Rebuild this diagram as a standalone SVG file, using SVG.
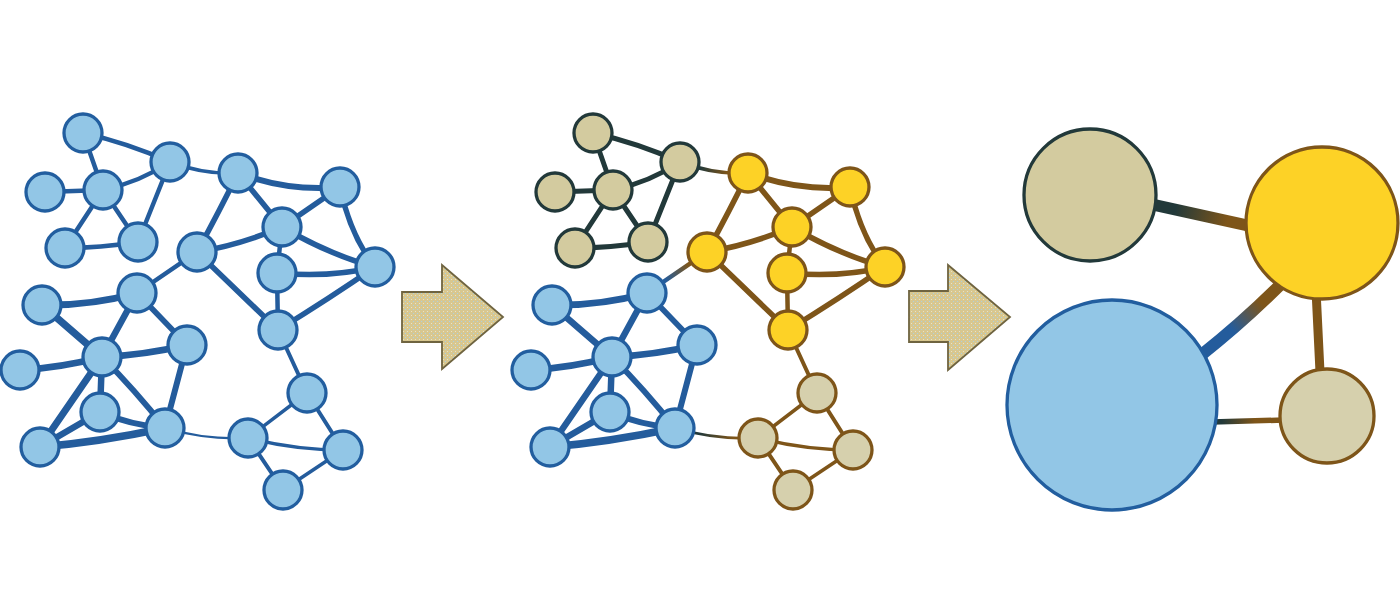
<svg xmlns="http://www.w3.org/2000/svg" width="1400" height="604" viewBox="0 0 1400 604">
<defs>
<style>
.b circle, circle.b{fill:#92C6E6;stroke:#225E9F;stroke-width:3.3}
.t circle, circle.t{fill:#D3CB9F;stroke:#22393A;stroke-width:3.3}
.y circle, circle.y{fill:#FDD226;stroke:#7E5519;stroke-width:3.3}
.d circle, circle.d{fill:#D6D0AD;stroke:#7E5519;stroke-width:3.3}
.e path{fill:none;stroke-linecap:round}
.eb{stroke:#245C9C}
.ed{stroke:#22393A}
.ew{stroke:#7E5519}
.arrow{fill:url(#speck);stroke:#6F6440;stroke-width:1.8}
</style>
<pattern id="speck" width="4" height="4" patternUnits="userSpaceOnUse">
<rect width="4" height="4" fill="#D8C78F"/>
<rect x="1" y="1" width="1" height="1" fill="#A9D0E6"/>
<rect x="3" y="3" width="1" height="1" fill="#E8E2C8"/>
</pattern>
<linearGradient id="g27" gradientUnits="userSpaceOnUse" x1="170" y1="162" x2="238" y2="173"><stop offset="0.3" stop-color="#22393A"/><stop offset="0.7" stop-color="#7E5519"/></linearGradient>
<linearGradient id="g1013" gradientUnits="userSpaceOnUse" x1="197" y1="252" x2="137" y2="293"><stop offset="0.3" stop-color="#7E5519"/><stop offset="0.7" stop-color="#245C9C"/></linearGradient>
<linearGradient id="g2123" gradientUnits="userSpaceOnUse" x1="165" y1="428" x2="248" y2="438"><stop offset="0.3" stop-color="#22393A"/><stop offset="0.7" stop-color="#7E5519"/></linearGradient>
<linearGradient id="rty" gradientUnits="userSpaceOnUse" x1="1157" y1="208" x2="1245" y2="225"><stop offset="0.2" stop-color="#22393A"/><stop offset="0.8" stop-color="#7E5519"/></linearGradient>
<linearGradient id="rby" gradientUnits="userSpaceOnUse" x1="1210" y1="350" x2="1285" y2="285"><stop offset="0.3" stop-color="#245C9C"/><stop offset="0.7" stop-color="#7E5519"/></linearGradient>
<linearGradient id="rbd" gradientUnits="userSpaceOnUse" x1="1215" y1="422" x2="1282" y2="420"><stop offset="0.1" stop-color="#22393A"/><stop offset="0.6" stop-color="#7E5519"/></linearGradient>
</defs>
<rect width="1400" height="604" fill="#FFFFFF"/>

<g id="connectors" class="e">
<g id="left-edges" class="eb">
<path d="M83,133 Q128,143 170,162" stroke-width="4.5"/>
<path d="M83,133 L103,190" stroke-width="4.5"/>
<path d="M45,192 L103,190" stroke-width="4.5"/>
<path d="M103,190 Q140,182 170,162" stroke-width="4.5"/>
<path d="M103,190 L65,248" stroke-width="4.5"/>
<path d="M103,190 L138,242" stroke-width="4.5"/>
<path d="M65,248 Q100,248 138,242" stroke-width="4.5"/>
<path d="M138,242 L170,162" stroke-width="4.5"/>
<path d="M170,162 Q205,175 238,173" stroke-width="3.5"/>
<path d="M238,173 Q290,192 340,187" stroke-width="6"/>
<path d="M238,173 L282,227" stroke-width="5.5"/>
<path d="M238,173 Q220,210 197,252" stroke-width="5.5"/>
<path d="M340,187 L282,227" stroke-width="5.5"/>
<path d="M340,187 Q350,235 375,267" stroke-width="5.5"/>
<path d="M282,227 Q330,255 375,267" stroke-width="5.5"/>
<path d="M282,227 L277,273" stroke-width="4.5"/>
<path d="M197,252 Q240,245 282,227" stroke-width="5.5"/>
<path d="M277,273 Q330,278 375,267" stroke-width="5.5"/>
<path d="M277,273 L278,330" stroke-width="4.5"/>
<path d="M197,252 L278,330" stroke-width="5.5"/>
<path d="M375,267 Q330,298 278,330" stroke-width="5.5"/>
<path d="M197,252 L137,293" stroke-width="4.5"/>
<path d="M137,293 Q90,306 42,305" stroke-width="7"/>
<path d="M137,293 L102,357" stroke-width="6.5"/>
<path d="M137,293 L187,345" stroke-width="5.5"/>
<path d="M42,305 L102,357" stroke-width="7.5"/>
<path d="M102,357 Q145,355 187,345" stroke-width="6.5"/>
<path d="M102,357 Q60,368 20,370" stroke-width="6.5"/>
<path d="M102,357 L100,412" stroke-width="6.5"/>
<path d="M102,357 Q135,390 165,428" stroke-width="6"/>
<path d="M102,357 L40,447" stroke-width="7"/>
<path d="M187,345 L165,428" stroke-width="6"/>
<path d="M100,412 Q130,425 165,428" stroke-width="6"/>
<path d="M100,412 L40,447" stroke-width="6.5"/>
<path d="M40,447 Q100,442 165,428" stroke-width="7.5"/>
<path d="M165,428 Q205,440 248,438" stroke-width="2.2"/>
<path d="M278,330 L307,393" stroke-width="4"/>
<path d="M307,393 L248,438" stroke-width="3.5"/>
<path d="M307,393 L343,450" stroke-width="4"/>
<path d="M248,438 Q295,450 343,450" stroke-width="3.5"/>
<path d="M248,438 L283,490" stroke-width="4"/>
<path d="M343,450 L283,490" stroke-width="3.5"/>
</g>
<g id="middle-edges" transform="translate(510,0)">
<g class="ed">
<path d="M83,133 Q128,143 170,162" stroke-width="5"/>
<path d="M83,133 L103,190" stroke-width="5"/>
<path d="M45,192 L103,190" stroke-width="5"/>
<path d="M103,190 Q140,182 170,162" stroke-width="5"/>
<path d="M103,190 L65,248" stroke-width="5"/>
<path d="M103,190 L138,242" stroke-width="5"/>
<path d="M65,248 Q100,248 138,242" stroke-width="5"/>
<path d="M138,242 L170,162" stroke-width="5"/>
</g>
<path d="M170,162 Q205,175 238,173" stroke-width="4" stroke="url(#g27)"/>
<g class="ew">
<path d="M238,173 Q290,192 340,187" stroke-width="6"/>
<path d="M238,173 L282,227" stroke-width="5.5"/>
<path d="M238,173 Q220,210 197,252" stroke-width="5.5"/>
<path d="M340,187 L282,227" stroke-width="5.5"/>
<path d="M340,187 Q350,235 375,267" stroke-width="5.5"/>
<path d="M282,227 Q330,255 375,267" stroke-width="5.5"/>
<path d="M282,227 L277,273" stroke-width="4.5"/>
<path d="M197,252 Q240,245 282,227" stroke-width="5.5"/>
<path d="M277,273 Q330,278 375,267" stroke-width="5.5"/>
<path d="M277,273 L278,330" stroke-width="4.5"/>
<path d="M197,252 L278,330" stroke-width="5.5"/>
<path d="M375,267 Q330,298 278,330" stroke-width="5.5"/>
<path d="M278,330 L307,393" stroke-width="4"/>
<path d="M307,393 L248,438" stroke-width="3.5"/>
<path d="M307,393 L343,450" stroke-width="4"/>
<path d="M248,438 Q295,450 343,450" stroke-width="3.5"/>
<path d="M248,438 L283,490" stroke-width="4"/>
<path d="M343,450 L283,490" stroke-width="3.5"/>
</g>
<path d="M197,252 L137,293" stroke-width="4.5" stroke="url(#g1013)"/>
<g class="eb">
<path d="M137,293 Q90,306 42,305" stroke-width="6.5"/>
<path d="M137,293 L102,357" stroke-width="6.5"/>
<path d="M137,293 L187,345" stroke-width="5.5"/>
<path d="M42,305 L102,357" stroke-width="6.5"/>
<path d="M102,357 Q145,355 187,345" stroke-width="6.5"/>
<path d="M102,357 Q60,368 20,370" stroke-width="6.5"/>
<path d="M102,357 L100,412" stroke-width="6.5"/>
<path d="M102,357 Q135,390 165,428" stroke-width="6"/>
<path d="M102,357 L40,447" stroke-width="6.5"/>
<path d="M187,345 L165,428" stroke-width="6"/>
<path d="M100,412 Q130,425 165,428" stroke-width="6"/>
<path d="M100,412 L40,447" stroke-width="6.5"/>
<path d="M40,447 Q100,442 165,428" stroke-width="7.5"/>
</g>
<path d="M165,428 Q205,440 248,438" stroke-width="2.8" stroke="url(#g2123)"/>
</g>
<g id="right-edges">
<path d="M1150,204 L1250,226" stroke-width="12" stroke="url(#rty)" stroke-linecap="butt"/>
<path d="M1200,356 Q1248,318 1290,275" stroke-width="12" stroke="url(#rby)" stroke-linecap="butt"/>
<path d="M1316,290 L1320,372" stroke-width="9" stroke="#7E5519" stroke-linecap="butt"/>
<path d="M1212,422 L1284,420" stroke-width="5.5" stroke="url(#rbd)" stroke-linecap="butt"/>
</g>
</g>

<g id="arrow1"><polygon class="arrow" points="402,292 442,292 442,265 503,317 442,369 442,342 402,342"/></g>
<g id="arrow2"><polygon class="arrow" points="909,291 948,291 948,265 1010,317 948,370 948,342 909,342"/></g>

<g id="left-nodes" class="b">
<g id="L1"><circle cx="83" cy="133" r="19"/></g>
<g id="L2"><circle cx="170" cy="162" r="19"/></g>
<g id="L3"><circle cx="45" cy="192" r="19"/></g>
<g id="L4"><circle cx="103" cy="190" r="19"/></g>
<g id="L5"><circle cx="65" cy="248" r="19"/></g>
<g id="L6"><circle cx="138" cy="242" r="19"/></g>
<g id="L7"><circle cx="238" cy="173" r="19"/></g>
<g id="L8"><circle cx="340" cy="187" r="19"/></g>
<g id="L9"><circle cx="282" cy="227" r="19"/></g>
<g id="L10"><circle cx="197" cy="252" r="19"/></g>
<g id="L11"><circle cx="375" cy="267" r="19"/></g>
<g id="L12"><circle cx="277" cy="273" r="19"/></g>
<g id="L13"><circle cx="137" cy="293" r="19"/></g>
<g id="L14"><circle cx="42" cy="305" r="19"/></g>
<g id="L15"><circle cx="278" cy="330" r="19"/></g>
<g id="L16"><circle cx="187" cy="345" r="19"/></g>
<g id="L17"><circle cx="102" cy="357" r="19"/></g>
<g id="L18"><circle cx="20" cy="370" r="19"/></g>
<g id="L19"><circle cx="307" cy="393" r="19"/></g>
<g id="L20"><circle cx="100" cy="412" r="19"/></g>
<g id="L21"><circle cx="165" cy="428" r="19"/></g>
<g id="L22"><circle cx="40" cy="447" r="19"/></g>
<g id="L23"><circle cx="248" cy="438" r="19"/></g>
<g id="L24"><circle cx="343" cy="450" r="19"/></g>
<g id="L25"><circle cx="283" cy="490" r="19"/></g>
</g>

<g id="middle-nodes" transform="translate(510,0)">
<g id="M1" class="t"><circle cx="83" cy="133" r="19"/></g>
<g id="M2" class="t"><circle cx="170" cy="162" r="19"/></g>
<g id="M3" class="t"><circle cx="45" cy="192" r="19"/></g>
<g id="M4" class="t"><circle cx="103" cy="190" r="19"/></g>
<g id="M5" class="t"><circle cx="65" cy="248" r="19"/></g>
<g id="M6" class="t"><circle cx="138" cy="242" r="19"/></g>
<g id="M7" class="y"><circle cx="238" cy="173" r="19"/></g>
<g id="M8" class="y"><circle cx="340" cy="187" r="19"/></g>
<g id="M9" class="y"><circle cx="282" cy="227" r="19"/></g>
<g id="M10" class="y"><circle cx="197" cy="252" r="19"/></g>
<g id="M11" class="y"><circle cx="375" cy="267" r="19"/></g>
<g id="M12" class="y"><circle cx="277" cy="273" r="19"/></g>
<g id="M13" class="b"><circle cx="137" cy="293" r="19"/></g>
<g id="M14" class="b"><circle cx="42" cy="305" r="19"/></g>
<g id="M15" class="y"><circle cx="278" cy="330" r="19"/></g>
<g id="M16" class="b"><circle cx="187" cy="345" r="19"/></g>
<g id="M17" class="b"><circle cx="102" cy="357" r="19"/></g>
<g id="M18" class="b"><circle cx="21" cy="370" r="19"/></g>
<g id="M19" class="d"><circle cx="307" cy="393" r="19"/></g>
<g id="M20" class="b"><circle cx="100" cy="412" r="19"/></g>
<g id="M21" class="b"><circle cx="165" cy="428" r="19"/></g>
<g id="M22" class="b"><circle cx="40" cy="447" r="19"/></g>
<g id="M23" class="d"><circle cx="248" cy="438" r="19"/></g>
<g id="M24" class="d"><circle cx="343" cy="450" r="19"/></g>
<g id="M25" class="d"><circle cx="283" cy="490" r="19"/></g>
</g>

<g id="right-nodes">
<g id="R-tan" class="t"><circle cx="1090" cy="195" r="66"/></g>
<g id="R-yellow" class="y"><circle cx="1322" cy="223" r="76"/></g>
<g id="R-blue" class="b"><circle cx="1112" cy="405" r="105"/></g>
<g id="R-small" class="d"><circle cx="1327" cy="416" r="47"/></g>
</g>
</svg>
